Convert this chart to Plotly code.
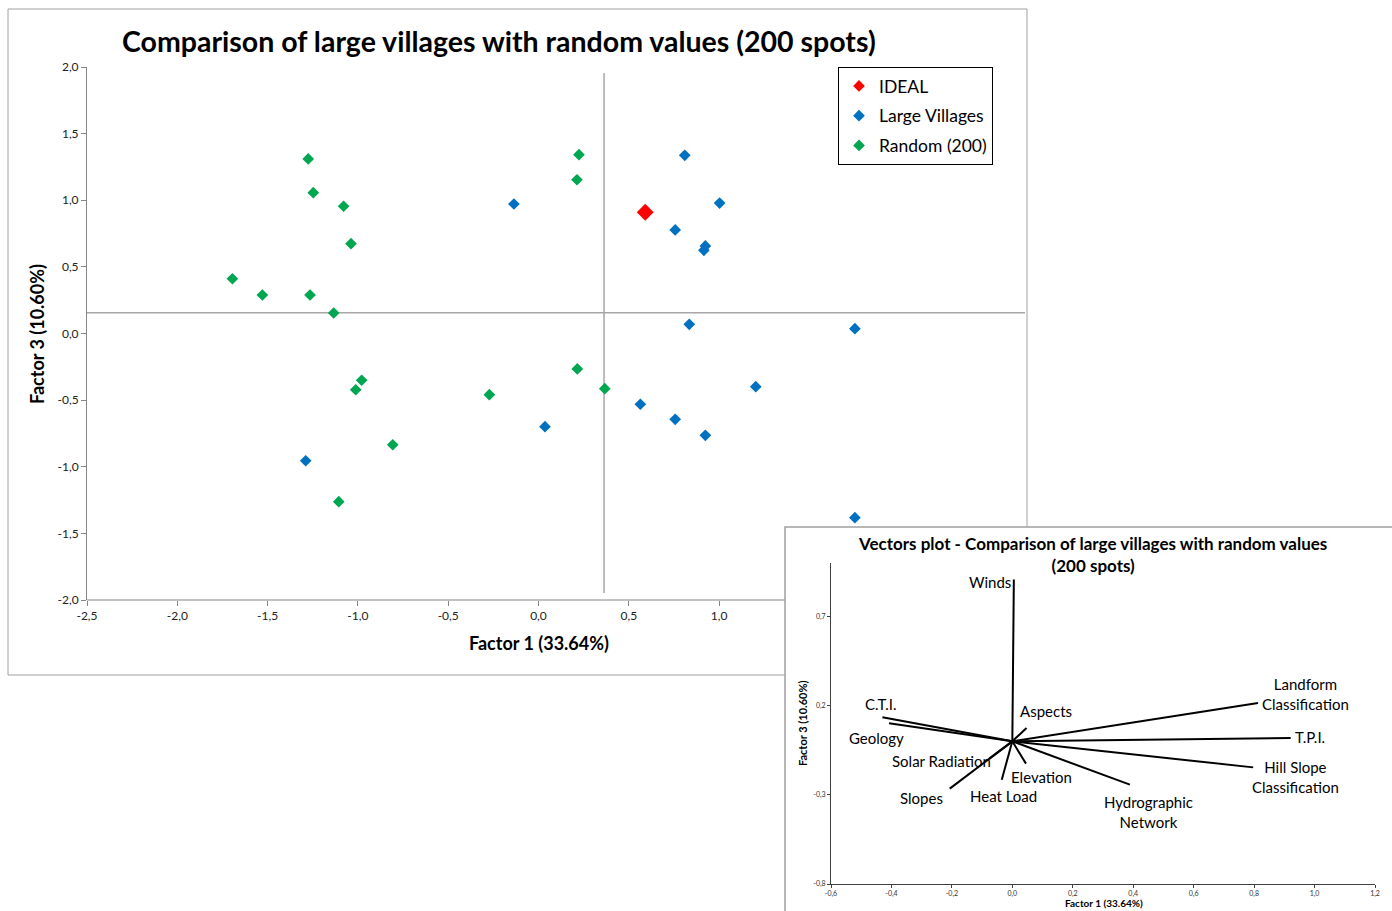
import plotly.graph_objects as go

# ---------------- data: main scatter ----------------
ideal_x = [0.591]
ideal_y = [0.910]

villages_x = [-0.136, 0.810, 1.003, 0.757, 0.924, 0.916, 0.835, 1.752, 1.203, 0.564, 0.757, 0.924, 0.036, -1.289, 1.752]
villages_y = [0.972, 1.337, 0.979, 0.777, 0.657, 0.624, 0.069, 0.036, -0.399, -0.531, -0.644, -0.764, -0.699, -0.955, -1.382]

random_x = [-1.275, -1.247, -1.079, -1.038, -1.695, -1.529, -1.265, -1.134, -0.979, -1.012, -0.272, 0.215, 0.367, -0.807, -1.106, 0.224, 0.213]
random_y = [1.310, 1.057, 0.955, 0.674, 0.411, 0.289, 0.289, 0.154, -0.351, -0.422, -0.459, -0.266, -0.414, -0.835, -1.262, 1.342, 1.154]

# reference (mean) lines
hline_y = 0.156
hline_x = [-2.5, 2.694]
vline_x = 0.363
vline_y = [-1.947, 1.955]

main_xticks = [-2.5, -2.0, -1.5, -1.0, -0.5, 0.0, 0.5, 1.0]
main_xticktext = ["-2,5", "-2,0", "-1,5", "-1,0", "-0,5", "0,0", "0,5", "1,0"]
main_yticks = [-2.0, -1.5, -1.0, -0.5, 0.0, 0.5, 1.0, 1.5, 2.0]
main_yticktext = ["-2,0", "-1,5", "-1,0", "-0,5", "0,0", "0,5", "1,0", "1,5", "2,0"]

# ---------------- data: vectors plot ----------------
vec_names = ["Winds", "Landform Classification", "T.P.I.", "Hill Slope Classification",
             "Hydrographic Network", "C.T.I.", "Geology", "Solar Radiation", "Slopes",
             "Heat Load", "Elevation", "Aspects"]
vec_x = [0.005, 0.813, 0.921, 0.797, 0.389, -0.430, -0.408, -0.076, -0.207, -0.035, 0.045, 0.047]
vec_y = [0.908, 0.215, 0.019, -0.146, -0.243, 0.135, 0.101, -0.097, -0.265, -0.215, -0.125, 0.075]
vec_labels = ["Winds", "Landform<br>Classification", "T.P.I.", "Hill Slope<br>Classification",
              "Hydrographic<br>Network", "C.T.I.", "Geology", "Solar Radiation", "Slopes",
              "Heat Load", "Elevation", "Aspects"]
# label centres in page pixels (layout)
vec_label_px = [(990, 582), (1305, 694), (1310, 737), (1295, 777), (1148, 812), (881, 704),
                (876, 738), (941, 761), (921, 798), (1003, 796), (1041, 777), (1046, 711)]

inset_xticks = [-0.6, -0.4, -0.2, 0.0, 0.2, 0.4, 0.6, 0.8, 1.0, 1.2]
inset_xticktext = ["-0,6", "-0,4", "-0,2", "0,0", "0,2", "0,4", "0,6", "0,8", "1,0", "1,2"]
inset_yticks = [-0.8, -0.3, 0.2, 0.7]
inset_yticktext = ["-0,8", "-0,3", "0,2", "0,7"]

W, H = 1392, 911
def fx(px):
    return px / W
def fy(py):
    return 1 - py / H

FONT = "Lato"
RED, BLUE, GREEN = "#ff0000", "#0070c0", "#00a650"
fig = go.Figure()

# main reference lines
fig.add_trace(go.Scatter(x=hline_x, y=[hline_y, hline_y], mode="lines",
                         line=dict(color="#a6a6a6", width=1.5), showlegend=False, hoverinfo="skip"))
fig.add_trace(go.Scatter(x=[vline_x, vline_x], y=vline_y, mode="lines",
                         line=dict(color="#a6a6a6", width=1.5), showlegend=False, hoverinfo="skip"))

fig.add_trace(go.Scatter(x=ideal_x, y=ideal_y, mode="markers", name="IDEAL", showlegend=False,
                         marker=dict(symbol="diamond", size=13, color=RED)))
# legend entries (same-size markers as in the original legend)
fig.add_trace(go.Scatter(x=[None], y=[None], mode="markers", name="IDEAL", legendgroup="a",
                         marker=dict(symbol="diamond", size=9, color=RED)))
fig.add_trace(go.Scatter(x=villages_x, y=villages_y, mode="markers", name="Large Villages", legendgroup="b",
                         marker=dict(symbol="diamond", size=9, color=BLUE)))
fig.add_trace(go.Scatter(x=random_x, y=random_y, mode="markers", name="Random (200)", legendgroup="c",
                         marker=dict(symbol="diamond", size=9, color=GREEN)))

# vectors
vx, vy = [], []
for ex, ey in zip(vec_x, vec_y):
    vx += [0, ex, None]
    vy += [0, ey, None]
fig.add_trace(go.Scatter(x=vx, y=vy, xaxis="x2", yaxis="y2", mode="lines",
                         line=dict(color="black", width=2), showlegend=False, hoverinfo="skip"))

fig.update_layout(
    template="none",
    width=W, height=H, autosize=False,
    margin=dict(l=0, r=0, t=0, b=0, pad=0, autoexpand=False),
    paper_bgcolor="white", plot_bgcolor="rgba(0,0,0,0)",
    separators=",.",
    font=dict(family=FONT, color="black"),
    xaxis=dict(domain=[fx(87), fx(1025)], range=[-2.5, 2.694], tickvals=main_xticks,
               ticktext=main_xticktext, showgrid=False, zeroline=False, showline=False,
               automargin=False,
               ticks="outside", ticklen=5, tickcolor="#868686",
               tickfont=dict(size=12, family=FONT, color="#222")),
    yaxis=dict(domain=[fy(600), fy(67)], range=[-2.0, 2.0], tickvals=main_yticks,
               ticktext=main_yticktext, showgrid=False, zeroline=False, showline=True,
               automargin=False, linecolor="#868686", linewidth=1,
               ticks="outside", ticklen=5, tickcolor="#868686",
               tickfont=dict(size=12, family=FONT, color="#222")),
    xaxis2=dict(domain=[fx(831), fx(1375)], range=[-0.6, 1.2], anchor="y2",
                tickvals=inset_xticks, ticktext=inset_xticktext, showgrid=False, zeroline=False,
                automargin=False, showline=True, linecolor="#404040", linewidth=1,
                ticks="outside", ticklen=3, tickcolor="#404040",
                tickfont=dict(size=7, family=FONT, color="#333")),
    yaxis2=dict(domain=[fy(884), fy(563)], range=[-0.8, 1.0], anchor="x2",
                tickvals=inset_yticks, ticktext=inset_yticktext, showgrid=False, zeroline=False,
                automargin=False, showline=True, linecolor="#404040", linewidth=1,
                ticks="outside", ticklen=3, tickcolor="#404040",
                tickfont=dict(size=7, family=FONT, color="#333")),
    legend=dict(x=fx(838), y=fy(67), xanchor="left", yanchor="top",
                bordercolor="black", borderwidth=1, bgcolor="white",
                font=dict(size=17.5, family=FONT), traceorder="grouped",
                tracegroupgap=4),
    showlegend=True,
)

shapes = [
    # main chart border (right-bottom corner hidden under inset)
    dict(type="path", xref="paper", yref="paper",
         path=f"M {fx(785)},{fy(675)} L {fx(8)},{fy(675)} L {fx(8)},{fy(9)} L {fx(1027)},{fy(9)} L {fx(1027)},{fy(527)}",
         line=dict(color="#a0a0a0", width=1)),
    # main x axis line, visible part
    dict(type="line", xref="paper", yref="paper", x0=fx(87), x1=fx(785), y0=fy(600), y1=fy(600),
         line=dict(color="#868686", width=1)),
    # inset border
    dict(type="path", xref="paper", yref="paper",
         path=f"M {fx(785)},{fy(911)} L {fx(785)},{fy(527)} L {fx(1392)},{fy(527)}",
         line=dict(color="#a0a0a0", width=1.5)),
]
fig.update_layout(shapes=shapes)

ann = [
    dict(text="<b>Comparison of large villages with random values (200 spots)</b>",
         x=fx(499), y=fy(41), font=dict(size=28.5)),
    dict(text="<b>Factor 1 (33.64%)</b>", x=fx(539), y=fy(643), font=dict(size=18)),
    dict(text="<b>Factor 3 (10.60%)</b>", x=fx(37), y=fy(334), textangle=-90, font=dict(size=18)),
    dict(text="<b>Vectors plot - Comparison of large villages with random values<br>(200 spots)</b>",
         x=fx(1092), y=fy(554), font=dict(size=17)),
    dict(text="<b>Factor 3 (10.60%)</b>", x=fx(802), y=fy(723), textangle=-90, font=dict(size=11)),
    dict(text="<b>Factor 1 (33.64%)</b>", x=fx(1104), y=fy(903), font=dict(size=10)),
]
for lab, (px, py) in zip(vec_labels, vec_label_px):
    ann.append(dict(text=lab, x=fx(px), y=fy(py), font=dict(size=15)))
for a in ann:
    a.update(xref="paper", yref="paper", showarrow=False, xanchor="center", yanchor="middle")
    a["font"].setdefault("family", FONT)
    a["font"].setdefault("color", "black")
fig.update_layout(annotations=ann)

fig.write_html("out.html",
               post_script="document.body.style.margin='0';document.body.style.overflow='hidden';")
